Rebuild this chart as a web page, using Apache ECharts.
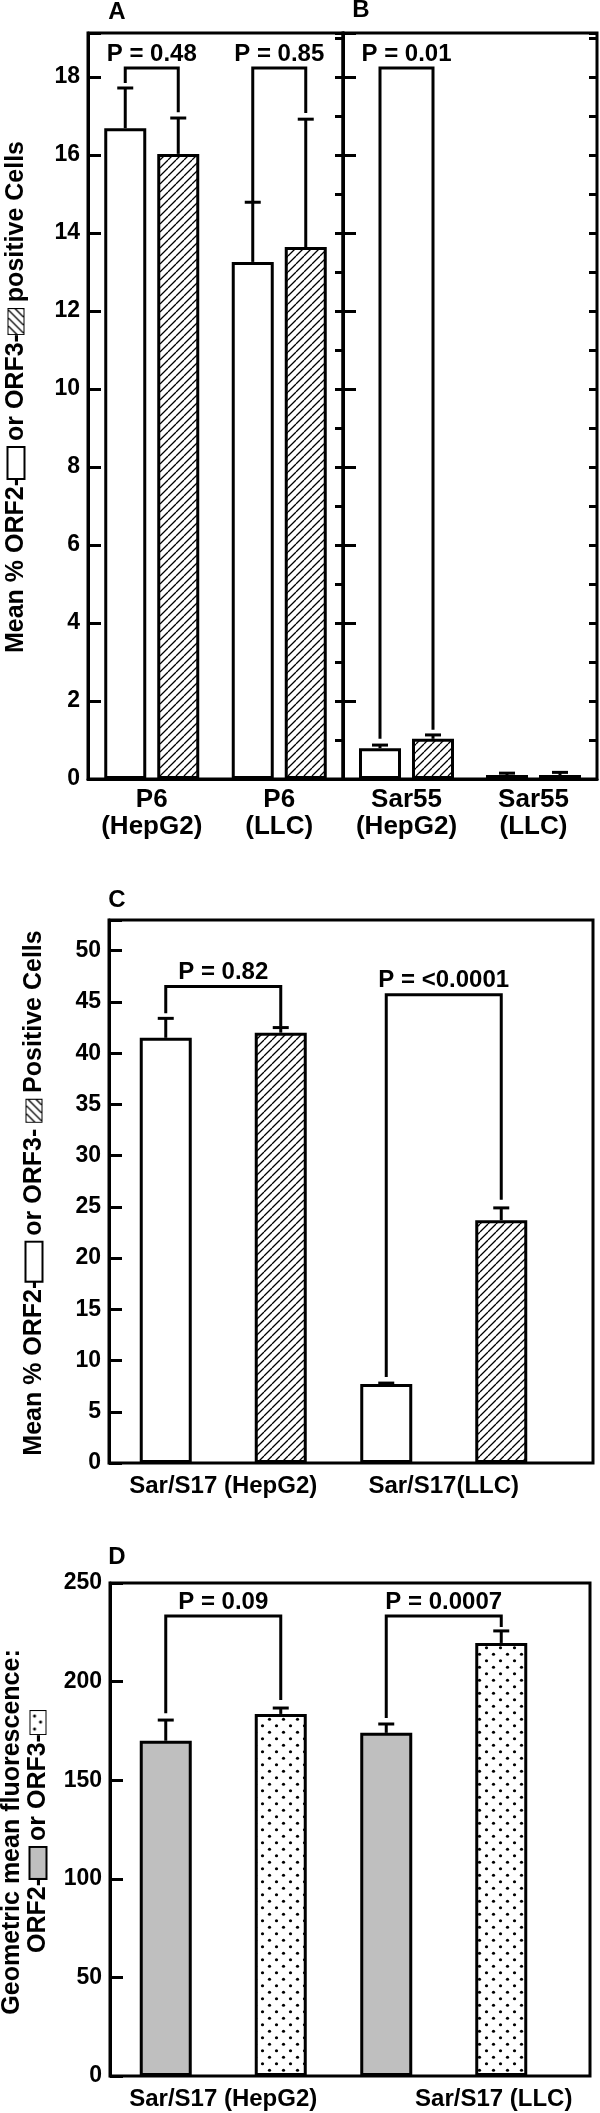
<!DOCTYPE html>
<html><head><meta charset="utf-8">
<script src="https://cdn.jsdelivr.net/npm/echarts@6/dist/echarts.min.js"></script>
<style>html,body{margin:0;padding:0;background:#fff}#c{width:600px;height:2113px}</style>
</head><body><div id="c"></div>
<script>
// ---------------- DATA ----------------
// Panel A
const catsA = ['P6\n(HepG2)', 'P6\n(LLC)'];
const orf2A = [16.69, 13.26];
const orf3A = [16.03, 13.64];
const orf2ErrA = [17.72, 14.79];
const orf3ErrA = [16.95, 16.92];
const legLeftA = [17.85, 14.80];
const legRightA = [17.10, 17.08];
const bracketTopA = [18.23, 18.23];
const pA = ['P = 0.48', 'P = 0.85'];
// Panel B
const catsB = ['Sar55\n(HepG2)', 'Sar55\n(LLC)'];
const orf2B = [0.79, 0.10];
const orf3B = [1.03, 0.10];
const orf2ErrB = [0.87, 0.15];
const orf3ErrB = [1.13, 0.17];
const legLeftB = [1.03];
const legRightB = [1.26];
const bracketTopB = [18.23];
const pB = ['P = 0.01'];
const ticksAB = [0, 2, 4, 6, 8, 10, 12, 14, 16, 18];
const maxAB = 19.13;
// Panel C
const catsC = ['Sar/S17 (HepG2)', 'Sar/S17(LLC)'];
const orf2C = [41.5, 7.7];
const orf3C = [42.0, 23.7];
const orf2ErrC = [43.4, 7.8];
const orf3ErrC = [42.5, 24.9];
const legLeftC = [43.9, 8.4];
const legRightC = [42.6, 25.7];
const bracketTopC = [46.5, 45.7];
const pC = ['P = 0.82', 'P = <0.0001'];
const ticksC = [0, 5, 10, 15, 20, 25, 30, 35, 40, 45, 50];
const maxC = 53;
// Panel D
const catsD = ['Sar/S17 (HepG2)', 'Sar/S17 (LLC)'];
const orf2D = [170, 174];
const orf3D = [183.6, 219.6];
const orf2ErrD = [180.5, 178.5];
const orf3ErrD = [186.6, 225.7];
const legLeftD = [184, 181.5];
const legRightD = [190.7, 227.7];
const bracketTopD = [233.3, 233.3];
const pD = ['P = 0.09', 'P = 0.0007'];
const ticksD = [0, 50, 100, 150, 200, 250];

// ---------------- PATTERNS ----------------
function mk(w, h, draw) { const c = document.createElement('canvas'); c.width = w; c.height = h; const g = c.getContext('2d'); draw(g, w, h); return c; }
function hatchDraw(g, w, h) {
  g.fillStyle = '#fff'; g.fillRect(0, 0, w, h);
  g.strokeStyle = '#000'; g.lineWidth = 1.3; g.beginPath();
  for (let k = -h; k < w + h; k += 8) { g.moveTo(k, h); g.lineTo(k + h, 0); }
  g.stroke();
}
const hatchTile = mk(8, 8, hatchDraw);
function dotsDraw(g, w, h) {
  g.fillStyle = '#fff'; g.fillRect(0, 0, w, h);
  g.fillStyle = '#000';
  for (let y = 3.25, r = 0; y < h; y += 6.5, r++) {
    for (let x = (r % 2 ? 10.5 : 3.5) - 14; x < w + 14; x += 14) { g.beginPath(); g.arc(x, y, 1.6, 0, Math.PI * 2); g.fill(); }
  }
}
const dotsTile = mk(14, 13, dotsDraw);
const hatchBoxA = mk(25, 15, hatchDraw);
const hatchBoxC = mk(22, 15, hatchDraw);
const dotsBox = mk(23, 15, (g, w, h) => { g.fillStyle = '#fff'; g.fillRect(0, 0, w, h); g.fillStyle = '#000'; [[5,4],[12,10],[18,4]].forEach(p => { g.beginPath(); g.arc(p[0], p[1], 1.6, 0, Math.PI * 2); g.fill(); }); });

const FF = '"Liberation Sans", Arial, Helvetica, sans-serif';
const BLACK = '#000';

// ---------------- HELPERS ----------------
function errRender(half, capW) {
  return function (params, api) {
    const c = api.value(0), v = api.value(1), e = api.value(2), s = api.value(3);
    const p0 = api.coord([c, v]), p1 = api.coord([c, e]);
    const x = p0[0] + (s ? half : -half);
    return { type: 'group', children: [
      { type: 'line', shape: { x1: x, y1: p0[1], x2: x, y2: p1[1] }, style: { stroke: BLACK, lineWidth: 3 } },
      { type: 'line', shape: { x1: x - capW / 2, y1: p1[1], x2: x + capW / 2, y2: p1[1] }, style: { stroke: BLACK, lineWidth: 3 } }
    ] };
  };
}
function brRender(half, texts, off) {
  return function (params, api) {
    const c = api.value(0), lb = api.value(1), rb = api.value(2), t = api.value(3);
    const pl = api.coord([c, lb]), pr = api.coord([c, rb]), pt = api.coord([c, t]);
    const xl = pl[0] - half, xr = pl[0] + half;
    return { type: 'group', children: [
      { type: 'polyline', shape: { points: [[xl, pl[1]], [xl, pt[1]], [xr, pt[1]], [xr, pr[1]]] }, style: { stroke: BLACK, fill: 'none', lineWidth: 3 } },
      { type: 'text', style: { text: texts[params.dataIndex], x: (xl + xr) / 2, y: pt[1] - off, align: 'center', verticalAlign: 'middle', textAlign: 'center', textVerticalAlign: 'middle', fontSize: 24, fontWeight: 'bold', fontFamily: FF, fill: BLACK } }
    ] };
  };
}
function errData(v2, e2, v3, e3) {
  const d = [];
  v2.forEach((v, i) => { d.push([i, v, e2[i], 0]); d.push([i, v3[i], e3[i], 1]); });
  return d;
}
function brData(l, r, t) { return l.map((v, i) => [i, v, r[i], t[i]]); }

const whiteStyle = { color: '#fff', borderColor: BLACK, borderWidth: 3 };
const hatchStyle = { color: { image: hatchTile, repeat: 'repeat' }, borderColor: BLACK, borderWidth: 3 };
const grayStyle = { color: '#bfbfbf', borderColor: BLACK, borderWidth: 3 };
const dotsStyle = { color: { image: dotsTile, repeat: 'repeat' }, borderColor: BLACK, borderWidth: 3 };

function panelSeries(xi, yi, v2, v3, e2, e3, ll, lr, bt, ptxt, st2, st3, bw, gap) {
  const half = (bw + gap) / 2;
  return [
    { type: 'bar', xAxisIndex: xi, yAxisIndex: yi, data: v2, barWidth: bw, barGap: (gap / bw * 100) + '%', itemStyle: st2, z: 2 },
    { type: 'bar', xAxisIndex: xi, yAxisIndex: yi, data: v3, barWidth: bw, barGap: (gap / bw * 100) + '%', itemStyle: st3, z: 2 },
    { type: 'custom', xAxisIndex: xi, yAxisIndex: yi, data: errData(v2, e2, v3, e3), renderItem: errRender(half, 16), clip: false, z: 3, encode: { x: 0, y: 1 } },
    { type: 'custom', xAxisIndex: xi, yAxisIndex: yi, data: brData(ll, lr, bt), renderItem: brRender(half, ptxt, 14), clip: false, z: 3, encode: { x: 0, y: 1 } }
  ];
}

const lblStyle = { color: BLACK, fontSize: 24, fontWeight: 'bold', fontFamily: FF };
const lblStyleAB = { color: BLACK, fontSize: 26, fontWeight: 'bold', fontFamily: FF };
const axisLineStyle = { show: true, lineStyle: { color: BLACK, width: 3 } };
function catAxis(grid, data, margin, lineShow, extra, ls, lh) {
  return Object.assign({ type: 'category', gridIndex: grid, data: data,
    axisLine: lineShow ? axisLineStyle : { show: false }, axisTick: { show: false },
    axisLabel: Object.assign({ margin: margin, lineHeight: lh || 26, interval: 0 }, ls || lblStyle), splitLine: { show: false } }, extra || {});
}
function valAxis(grid, ticks, max, opts) {
  const step = ticks[1] - ticks[0];
  return Object.assign({ type: 'value', gridIndex: grid, min: ticks[0], max: max, interval: step,
    axisLine: axisLineStyle,
    axisTick: { show: true, inside: true, length: 13, lineStyle: { color: BLACK, width: 3 } },
    axisLabel: { show: true, margin: 8, color: BLACK, fontSize: 23, fontWeight: 'bold', fontFamily: FF,
      formatter: v => (ticks.indexOf(v) >= 0 ? String(v) : '') },
    splitLine: { show: false } }, opts || {});
}
function minorAxis(grid, max) {
  return { type: 'value', gridIndex: grid, min: 0, max: max, interval: 1,
    axisLine: { show: false }, axisLabel: { show: false }, splitLine: { show: false },
    axisTick: { show: true, inside: true, length: 8, lineStyle: { color: BLACK, width: 3 } } };
}
const hidden = (type, grid) => ({ type: type, gridIndex: grid, show: false, min: 0, max: 1 });
const frame = { show: true, borderColor: BLACK, borderWidth: 3, backgroundColor: 'transparent', outerBoundsMode: 'none', containLabel: false };

const chart = echarts.init(document.getElementById('c'), null, { renderer: 'canvas' });
const titleFont = { fontSize: 25, fontWeight: 'bold', fontFamily: FF, fill: BLACK };
const richBoxes = {
  w: { width: 30, height: 15, backgroundColor: '#fff', borderColor: BLACK, borderWidth: 2 },
  wc: { width: 38, height: 15, backgroundColor: '#fff', borderColor: BLACK, borderWidth: 2 },
  h: { width: 25, height: 15, backgroundColor: { image: hatchBoxA }, borderColor: BLACK, borderWidth: 2 },
  hc: { width: 22, height: 15, backgroundColor: { image: hatchBoxC }, borderColor: BLACK, borderWidth: 2 },
  g: { width: 30, height: 15, backgroundColor: '#bfbfbf', borderColor: BLACK, borderWidth: 2 },
  d: { width: 23, height: 15, backgroundColor: { image: dotsBox }, borderColor: BLACK, borderWidth: 2 }
};
function rot(text, x, y, extra) {
  return { type: 'text', x: x, y: y, rotation: Math.PI / 2, z: 10,
    style: Object.assign({ text: text, align: 'center', verticalAlign: 'middle', rich: richBoxes, lineHeight: 26 }, titleFont, extra || {}) };
}
function letter(t, x, y) {
  return { type: 'text', x: x, y: y, z: 10, style: Object.assign({ text: t, align: 'center', verticalAlign: 'middle' }, titleFont, { fontSize: 24 }) };
}

chart.setOption({
  animation: false,
  backgroundColor: '#fff',
  grid: [
    Object.assign({ left: 88, top: 33, width: 255, height: 746 }, frame),
    Object.assign({ left: 343, top: 33, width: 254, height: 746 }, frame),
    Object.assign({ left: 109, top: 920, width: 484, height: 543 }, frame),
    { left: 113, top: 920, width: 441, height: 543, show: false, outerBoundsMode: 'none', containLabel: false },
    Object.assign({ left: 110, top: 1583, width: 480, height: 493 }, frame),
    { left: 113, top: 1583, width: 441, height: 493, show: false, outerBoundsMode: 'none', containLabel: false }
  ],
  xAxis: [
    catAxis(0, catsA, 7, true, null, lblStyleAB, 27),
    catAxis(1, catsB, 7, true, null, lblStyleAB, 27),
    hidden('value', 2),
    catAxis(3, catsC, 10, false),
    hidden('value', 4),
    catAxis(5, catsD, 11, false, { axisLabel: Object.assign({ margin: 11, interval: 0,
      formatter: (v, i) => (i === 1 ? '{s|' + v + '}' : v),
      rich: { s: Object.assign({ padding: [0, 0, 0, 100] }, lblStyle) } }, lblStyle) })
  ],
  yAxis: [
    valAxis(0, ticksAB, maxAB),
    minorAxis(0, maxAB),
    valAxis(1, ticksAB, maxAB, { axisLabel: { show: false } }),
    minorAxis(1, maxAB),
    hidden('value', 2),
    valAxis(3, ticksC, maxC, { offset: 4 }),
    hidden('value', 4),
    valAxis(5, ticksD, ticksD[ticksD.length - 1], { offset: 3 })
  ],
  series: [].concat(
    panelSeries(0, 0, orf2A, orf3A, orf2ErrA, orf3ErrA, legLeftA, legRightA, bracketTopA, pA, whiteStyle, hatchStyle, 42, 11),
    panelSeries(1, 2, orf2B, orf3B, orf2ErrB, orf3ErrB, legLeftB, legRightB, bracketTopB, pB, whiteStyle, hatchStyle, 42, 11),
    panelSeries(3, 5, orf2C, orf3C, orf2ErrC, orf3ErrC, legLeftC, legRightC, bracketTopC, pC, whiteStyle, hatchStyle, 52, 63),
    panelSeries(5, 7, orf2D, orf3D, orf2ErrD, orf3ErrD, legLeftD, legRightD, bracketTopD, pD, grayStyle, dotsStyle, 52, 63)
  ),
  graphic: [
    letter('A', 117, 12), letter('B', 361, 10), letter('C', 117, 900), letter('D', 117, 1557),
    rot('Mean % ORF2-{w| } or ORF3-{h| } positive Cells', 16, 397),
    rot('Mean % ORF2-{wc| } or ORF3- {hc| } Positive Cells', 34, 1193),
    rot('Geometric mean fluorescence:\nORF2-{g| } or ORF3-{d| }', 25, 1832)
  ]
});
</script></body></html>
